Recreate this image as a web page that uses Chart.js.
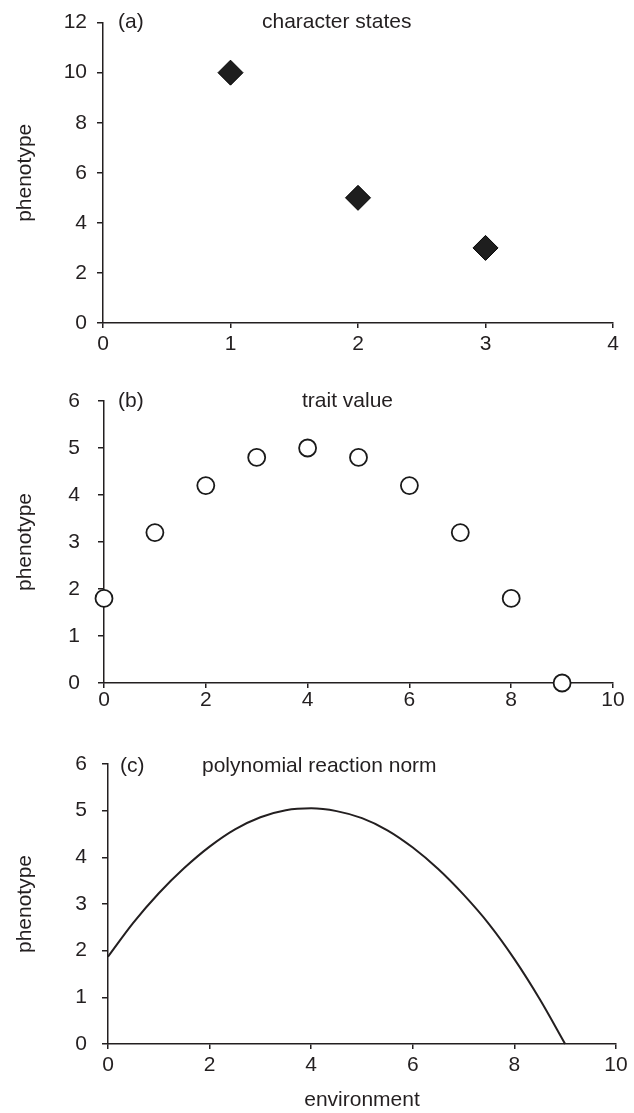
<!DOCTYPE html>
<html>
<head>
<meta charset="utf-8">
<script src="https://cdn.jsdelivr.net/npm/chart.js@4.4.1/dist/chart.umd.min.js"></script>
<style>
  body { margin: 0; background: #fff; }
  canvas { position: absolute; left: 0; }
</style>
</head>
<body>
<canvas id="chartA" width="634" height="370" style="top:0px"></canvas>
<canvas id="chartB" width="634" height="355" style="top:370px"></canvas>
<canvas id="chartC" width="634" height="388" style="top:725px"></canvas>
<script>
// (a) character states
const stateX = [1, 2, 3];
const stateY = [10, 5, 3];

// (b) trait value
const traitX = [0, 1, 2, 3, 4, 5, 6, 7, 8, 9];
const traitY = [1.8, 3.2, 4.2, 4.8, 5.0, 4.8, 4.2, 3.2, 1.8, 0];

// (c) polynomial reaction norm
const normX = [0, 0.5, 1, 1.5, 2, 2.5, 3, 3.5, 4, 4.5, 5, 5.5, 6, 6.5, 7, 7.5, 8, 8.5, 9];
const normY = [1.87, 2.6, 3.23, 3.77, 4.23, 4.6, 4.86, 5.01, 5.05, 4.99, 4.84, 4.58, 4.21, 3.75, 3.2, 2.57, 1.82, 0.96, 0];

const panelTags = ['(a)', '(b)', '(c)'];
const panelTitles = ['character states', 'trait value', 'polynomial reaction norm'];
const yTitle = 'phenotype';
const xTitle = 'environment';

const INK = '#231f20';
const FONT = '"Liberation Sans", Arial, Helvetica, sans-serif';
const FONT_PX = 21;

const toPoints = (xs, ys) => xs.map((x, i) => ({ x: x, y: ys[i] }));

// panel label + title inside the plot area
const panelText = {
  id: 'panelText',
  afterDraw(chart, args, opts) {
    const { ctx, chartArea } = chart;
    ctx.save();
    ctx.font = FONT_PX + 'px ' + FONT;
    ctx.fillStyle = INK;
    ctx.textBaseline = 'middle';
    ctx.textAlign = 'left';
    ctx.fillText(opts.tag, chartArea.left + opts.tagDx, chartArea.top + opts.dy);
    ctx.fillText(opts.title, chartArea.left + opts.titleDx, chartArea.top + opts.dy);
    ctx.restore();
  }
};

function axis(o) {
  return {
    type: 'linear',
    min: o.min,
    max: o.max,
    afterFit: o.fit,
    ticks: {
      stepSize: o.step,
      autoSkip: false,
      padding: o.pad,
      color: INK,
      font: { family: FONT, size: FONT_PX }
    },
    grid: {
      drawOnChartArea: false,
      drawTicks: true,
      tickLength: o.tick,
      color: INK,
      lineWidth: 1.5
    },
    border: { color: INK, width: 1.5 },
    title: o.title || { display: false }
  };
}

function piirraPaneeli(id, cfg) {
  return new Chart(document.getElementById(id), {
    type: 'scatter',
    data: { datasets: [cfg.dataset] },
    plugins: [panelText],
    options: {
      responsive: false,
      animation: false,
      events: [],
      layout: { padding: { top: cfg.top, right: cfg.right, left: 0, bottom: 0 } },
      plugins: {
        legend: { display: false },
        tooltip: { enabled: false },
        panelText: cfg.text
      },
      scales: {
        x: axis({
          min: cfg.xMin, max: cfg.xMax, step: cfg.xStep, pad: cfg.xPad, tick: 5,
          fit: s => { s.height = cfg.xHeight; },
          title: cfg.xTitle
        }),
        y: axis({
          min: cfg.yMin, max: cfg.yMax, step: cfg.yStep, pad: cfg.yPad, tick: 6,
          fit: s => { s.width = cfg.yWidth; },
          title: {
            display: true,
            text: yTitle,
            color: INK,
            font: { family: FONT, size: FONT_PX },
            padding: { top: 13, bottom: 0 }
          }
        })
      }
    }
  });
}

piirraPaneeli('chartA', {
  dataset: {
    data: toPoints(stateX, stateY),
    pointStyle: 'rectRot',
    pointRadius: 12.5,
    backgroundColor: '#1e1e1e',
    borderColor: '#000',
    borderWidth: 1,
    clip: false
  },
  top: 19, right: 21, xHeight: 47, yWidth: 103,
  xMin: 0, xMax: 4, xStep: 1, xPad: 4,
  yMin: 0, yMax: 12, yStep: 2, yPad: 10,
  text: { tag: panelTags[0], title: panelTitles[0], tagDx: 15, titleDx: 159, dy: 0 }
});

piirraPaneeli('chartB', {
  dataset: {
    data: toPoints(traitX, traitY),
    pointStyle: 'circle',
    pointRadius: 8.5,
    backgroundColor: '#fff',
    borderColor: '#1a1a1a',
    borderWidth: 1.8,
    clip: false
  },
  top: 31, right: 21, xHeight: 42, yWidth: 104,
  xMin: 0, xMax: 10, xStep: 2, xPad: 0,
  yMin: 0, yMax: 6, yStep: 1, yPad: 18,
  text: { tag: panelTags[1], title: panelTitles[1], tagDx: 14, titleDx: 198, dy: 0 }
});

piirraPaneeli('chartC', {
  dataset: {
    data: toPoints(normX, normY),
    showLine: true,
    pointRadius: 0,
    borderColor: INK,
    borderWidth: 2,
    cubicInterpolationMode: 'monotone',
    clip: false
  },
  top: 39, right: 18, xHeight: 69, yWidth: 108,
  xMin: 0, xMax: 10, xStep: 2, xPad: 4,
  yMin: 0, yMax: 6, yStep: 1, yPad: 15,
  xTitle: {
    display: true,
    text: xTitle,
    color: INK,
    font: { family: FONT, size: FONT_PX },
    padding: { top: 0, bottom: 0 }
  },
  text: { tag: panelTags[2], title: panelTitles[2], tagDx: 12, titleDx: 94, dy: 2 }
});
</script>
</body>
</html>
